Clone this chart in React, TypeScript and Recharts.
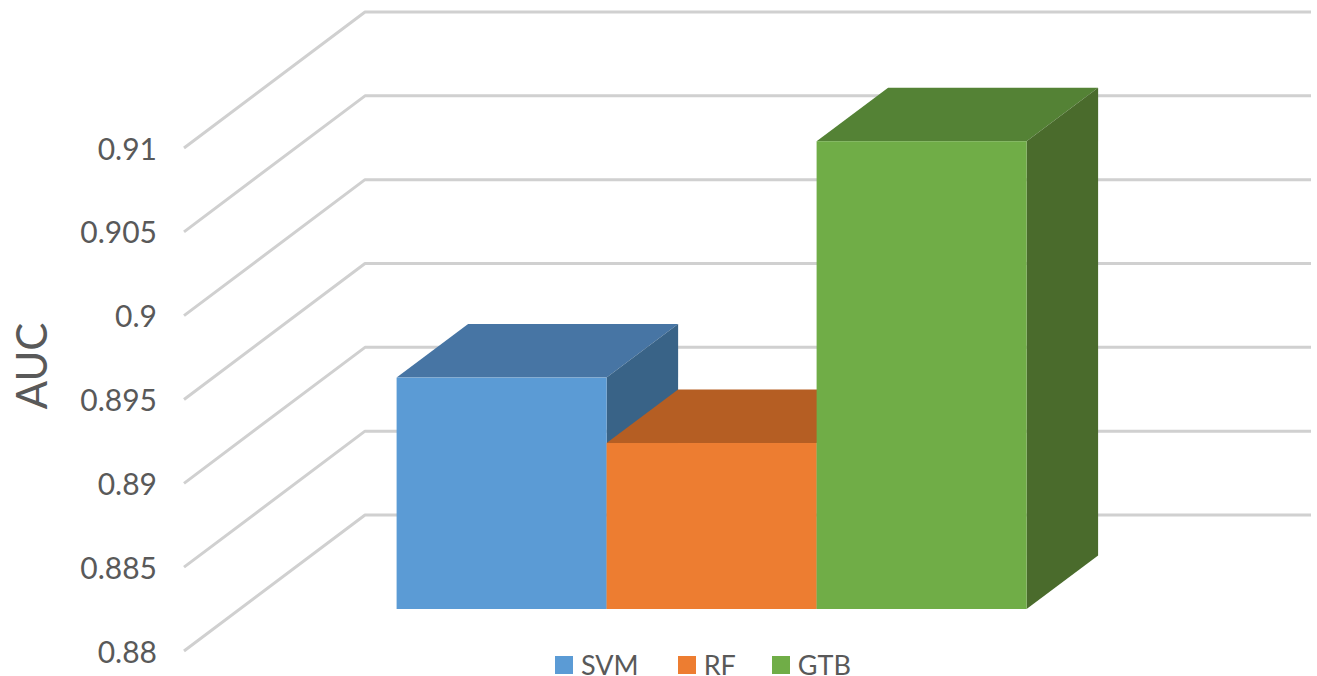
import React from 'react';
import { BarChart, Bar, XAxis, YAxis, CartesianGrid, Legend } from 'recharts';

// AUC per classifier, one bar per series in a single category
const categories = ['AUC'];
const svmValues = [0.8938];
const rfValues = [0.8899];
const gtbValues = [0.9079];
const yTicks = [0.88, 0.885, 0.89, 0.895, 0.9, 0.905, 0.91];

const rows = categories.map((name, i) => ({
  name,
  SVM: svmValues[i],
  RF: rfValues[i],
  GTB: gtbValues[i],
}));

const TEXT = '#595959';
const FONT = 'Lato, Carlito, "Open Sans", sans-serif';
const GRID = '#d0d0d0';

// Oblique projection: the back wall and the bar depth are screen-space shifts
const WALL_DX = 181;
const WALL_DY = -136;
const BAR_INSET_DX = 54.6;
const BAR_INSET_DY = -42;
const BAR_DEPTH_DX = 71.5;
const BAR_DEPTH_DY = -53.5;

const plotTop = 148;
const floorY = 651;

type Tones = { front: string; top: string; side: string };

const makeBox = (tones: Tones) => (props: any) => {
  const x = props.x + BAR_INSET_DX;
  const y = props.y + BAR_INSET_DY;
  const w = props.width;
  const bottom = floorY + BAR_INSET_DY;
  const h = bottom - y;
  const d = BAR_DEPTH_DX;
  const e = BAR_DEPTH_DY;
  return (
    <g>
      <polygon
        points={`${x},${y} ${x + d},${y + e} ${x + w + d},${y + e} ${x + w},${y}`}
        fill={tones.top}
      />
      <polygon
        points={`${x + w},${y} ${x + w + d},${y + e} ${x + w + d},${bottom + e} ${x + w},${bottom}`}
        fill={tones.side}
      />
      <rect x={x} y={y} width={w} height={h} fill={tones.front} />
    </g>
  );
};

// Each gridline runs along the side wall, then across the back wall
const wallLine = (props: any) => {
  const { x1, x2, y1, key } = props;
  return (
    <polyline
      key={key}
      points={`${x1},${y1} ${x1 + WALL_DX},${y1 + WALL_DY} ${x2 + WALL_DX},${y1 + WALL_DY}`}
      fill="none"
      stroke={GRID}
      strokeWidth={3}
      strokeLinejoin="round"
    />
  );
};

const legendGaps: Record<string, number> = { SVM: 39, RF: 36, GTB: 0 };

const legendContent = ({ payload }: any) => (
  <div style={{ display: 'flex', alignItems: 'center', fontFamily: FONT, fontSize: 27, color: TEXT, lineHeight: '22px' }}>
    {(payload ?? []).map((item: any) => (
      <div key={item.value} style={{ display: 'flex', alignItems: 'center', marginRight: legendGaps[item.value] }}>
        <span style={{ display: 'block', width: 18, height: 18, background: item.color, marginRight: 8 }} />
        <div style={{ height: 22 }}>{item.value}</div>
      </div>
    ))}
  </div>
);

export default function App() {
  return (
    <div style={{ position: 'absolute', left: 0, top: 0, width: 1317, height: 676, overflow: 'hidden', background: '#fff' }}>
      <BarChart
        width={1317}
        height={676}
        data={rows}
        margin={{ top: plotTop, right: 187, bottom: 676 - floorY, left: 0 }}
        barCategoryGap={158}
        barGap={0}
      >
        <CartesianGrid horizontal={wallLine} vertical={false} />
        <XAxis dataKey="name" hide />
        <YAxis
          width={184}
          domain={[0.88, 0.91]}
          ticks={yTicks}
          interval={0}
          axisLine={false}
          tickLine={false}
          tickMargin={21}
          tick={{ fill: TEXT, fontSize: 30, fontFamily: FONT, dy: 1 }}
          label={{
            value: 'AUC',
            angle: -90,
            position: { x: 47, y: 366 - plotTop },
            style: { fill: TEXT, fontSize: 42, fontFamily: FONT, textAnchor: 'middle' },
          }}
        />
        <Legend
          verticalAlign="middle"
          align="center"
          itemSorter={null}
          content={legendContent}
          wrapperStyle={{ left: 555, top: 654, width: 320, height: 22 }}
        />
        <Bar
          dataKey="SVM"
          fill="#5b9bd5"
          isAnimationActive={false}
          shape={makeBox({ front: '#5b9bd5', top: '#4775a4', side: '#396387' })}
        />
        <Bar
          dataKey="RF"
          fill="#ed7d31"
          isAnimationActive={false}
          shape={makeBox({ front: '#ed7d31', top: '#b55e23', side: '#9c4f1c' })}
        />
        <Bar
          dataKey="GTB"
          fill="#70ad47"
          isAnimationActive={false}
          shape={makeBox({ front: '#70ad47', top: '#548235', side: '#4a6b2c' })}
        />
      </BarChart>
    </div>
  );
}
